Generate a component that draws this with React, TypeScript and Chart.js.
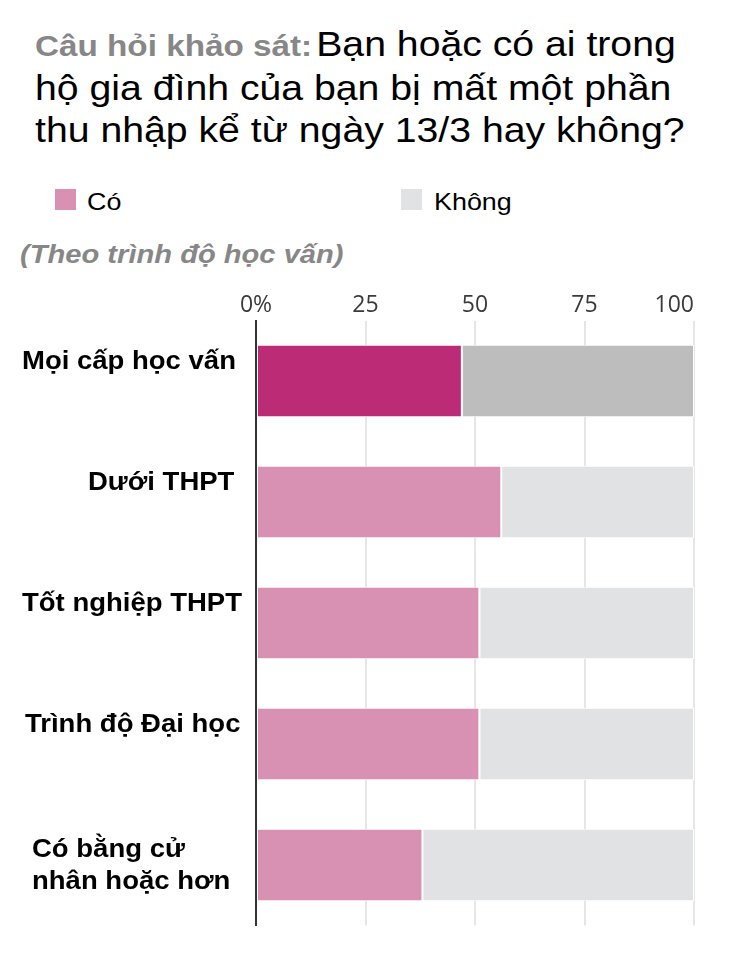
import React, { useEffect, useRef } from 'react';
import { Chart, registerables, Plugin } from 'chart.js';

Chart.register(...registerables);

const categories = [
  ['Mọi cấp học vấn'],
  ['Dưới THPT'],
  ['Tốt nghiệp THPT'],
  ['Trình độ Đại học'],
  ['Có bằng cử', 'nhân hoặc hơn'],
];
const coValues = [47, 56, 51, 51, 38];
const khongValues = [53, 44, 49, 49, 62];
const tickValues = [0, 25, 50, 75, 100];
const tickLabels = ['0%', '25', '50', '75', '100'];

const ARIAL = '"Liberation Sans", Arial, sans-serif';
const STRETCH = 1.12;
// horizontal start of each category label, canvas px
const labelIndent = [14, 80, 14, 17, 24];

const labelsPlugin: Plugin<'bar'> = {
  id: 'customLabels',
  afterDraw(chart) {
    const { ctx, chartArea } = chart;
    const x = chart.scales.x;
    const y = chart.scales.y;
    ctx.save();

    // x tick labels on top
    ctx.font = '400 23px "Open Sans", sans-serif';
    ctx.fillStyle = '#3a3a3a';
    ctx.textBaseline = 'alphabetic';
    tickValues.forEach((v, i) => {
      const px = x.getPixelForValue(v);
      const w = ctx.measureText(tickLabels[i]).width;
      let left = px - w / 2;
      if (left + w > chartArea.right) left = chartArea.right - w;
      ctx.fillText(tickLabels[i], left, chartArea.top - 9);
    });

    // category labels
    ctx.font = `bold 25px ${ARIAL}`;
    ctx.fillStyle = '#000';
    categories.forEach((lines, i) => {
      const cy = y.getPixelForValue(i);
      const first = cy - 12 + (lines.length - 1) * 4;
      lines.forEach((line, j) => {
        ctx.save();
        ctx.translate(labelIndent[i], first + j * 31.5);
        ctx.scale(1.1, 1);
        ctx.fillText(line, 0, 0);
        ctx.restore();
      });
    });
    ctx.restore();
  },
};

const SurveyChart: React.FC = () => {
  const canvasRef = useRef<HTMLCanvasElement>(null);

  useEffect(() => {
    if (!canvasRef.current) return;
    const chart = new Chart(canvasRef.current, {
      type: 'bar',
      data: {
        labels: categories.map((c) => c.join(' ')),
        datasets: [
          {
            label: 'Có',
            data: coValues,
            backgroundColor: coValues.map((_, i) => (i === 0 ? '#BC2B76' : '#D891B2')),
            borderColor: '#fff',
            borderWidth: 1,
            borderSkipped: false,
          },
          {
            label: 'Không',
            data: khongValues,
            backgroundColor: khongValues.map((_, i) => (i === 0 ? '#BDBDBD' : '#E1E2E4')),
            borderColor: '#fff',
            borderWidth: 1,
            borderSkipped: false,
          },
        ],
      },
      options: {
        indexAxis: 'y',
        responsive: false,
        animation: false,
        layout: { padding: { left: 248, right: 53, top: 40.5, bottom: 9.5 } },
        datasets: { bar: { barPercentage: 0.6, categoryPercentage: 1 } },
        plugins: { legend: { display: false }, tooltip: { enabled: false } },
        scales: {
          x: {
            position: 'top',
            stacked: true,
            min: 0,
            max: 100,
            afterBuildTicks: (scale) => {
              scale.ticks = tickValues.map((v) => ({ value: v }));
            },
            ticks: { display: false },
            grid: { color: '#e6e6e6', lineWidth: 2, drawTicks: false },
            border: { display: false },
          },
          y: {
            stacked: true,
            ticks: { display: false },
            grid: { display: false, drawTicks: false },
            border: { display: true, color: '#333', width: 2 },
          },
        },
      },
      plugins: [labelsPlugin],
    });
    return () => chart.destroy();
  }, []);

  return <canvas ref={canvasRef} width={739} height={655} style={{ position: 'absolute', left: 0, top: 272 }} />;
};

const stretch: React.CSSProperties = {
  display: 'inline-block',
  transform: `scaleX(${STRETCH})`,
  transformOrigin: 'left',
  whiteSpace: 'nowrap',
};

const App: React.FC = () => {
  return (
    <div style={{ position: 'relative', width: 739, height: 939, fontFamily: ARIAL }}>
      <div style={{ position: 'absolute', left: 27, top: 15, fontSize: 35, lineHeight: '42px', color: '#000' }}>
        <span style={stretch}>
          <span style={{ fontWeight: 'bold', fontSize: 29.7, color: '#878787' }}>Câu hỏi khảo sát:</span>
          <span style={{ fontSize: 13, lineHeight: 0 }}> </span>Bạn hoặc có ai trong
          <br />
          hộ gia đình của bạn bị mất một phần
          <br />
          thu nhập kể từ ngày 13/3 hay không?
        </span>
      </div>

      <div style={{ position: 'absolute', left: 47, top: 181, width: 21, height: 21, background: '#D891B2' }} />
      <div style={{ position: 'absolute', left: 79, top: 182, fontSize: 24, lineHeight: 1 }}>
        <span style={stretch}>Có</span>
      </div>
      <div style={{ position: 'absolute', left: 393, top: 181, width: 21, height: 21, background: '#E1E2E4' }} />
      <div style={{ position: 'absolute', left: 426, top: 182, fontSize: 24, lineHeight: 1 }}>
        <span style={stretch}>Không</span>
      </div>

      <div style={{ position: 'absolute', left: 12, top: 233, fontSize: 26, lineHeight: 1, fontWeight: 'bold', fontStyle: 'italic', color: '#878787' }}>
        <span style={stretch}>(Theo trình độ học vấn)</span>
      </div>

      <SurveyChart />
    </div>
  );
};

export default App;
